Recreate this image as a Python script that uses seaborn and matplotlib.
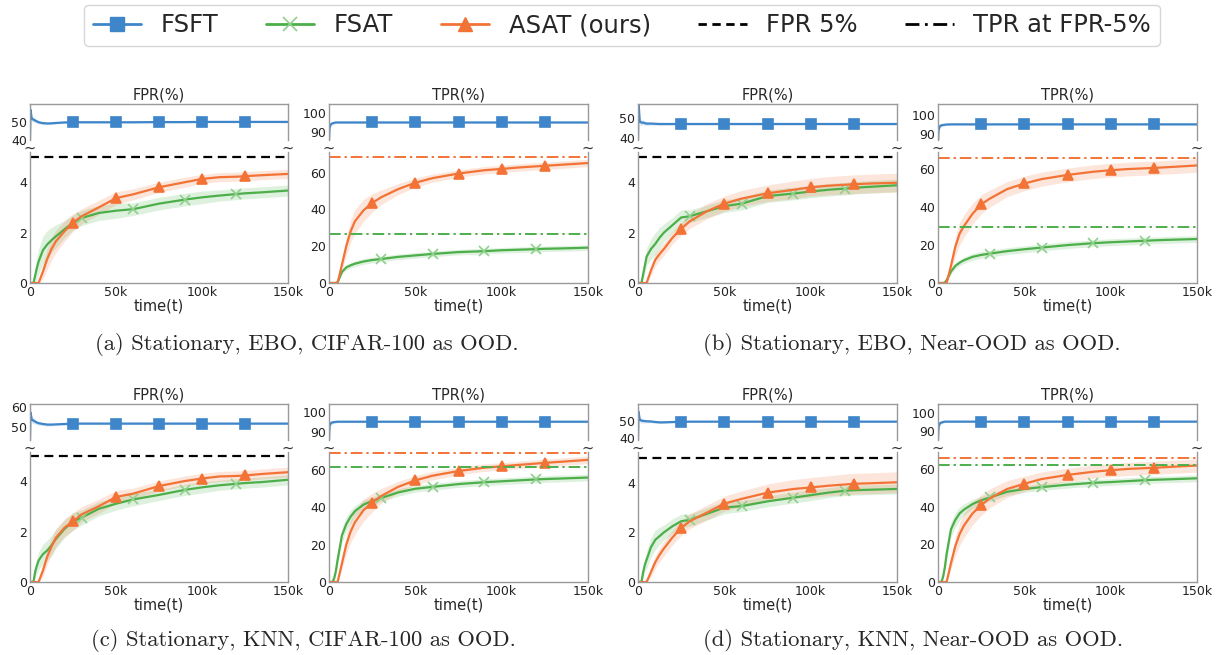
import matplotlib
matplotlib.use("Agg")
import matplotlib.pyplot as plt
from matplotlib.lines import Line2D
import numpy as np
import seaborn as sns

# time steps (thousands)
t_k = [0, 0.3, 1, 2, 3, 4, 5, 7.5, 10, 12.5, 15, 20, 25, 30, 40, 50, 60, 75, 90,
       100, 110, 120, 125, 135, 150]

# shaded spread of the FSFT curves
fpr_fsft_band = [0, 2.5, 1.8, 1.4, 1.2, 1.0, 0.9, 0.8, 0.7, 0.7, 0.6, 0.6, 0.6,
                 0.5, 0.5, 0.5, 0.5, 0.5, 0.5, 0.5, 0.5, 0.5, 0.5, 0.5, 0.5]
tpr_fsft_band = [0, 2.0, 1.2, 0.8, 0.6, 0.5, 0.5, 0.5, 0.5, 0.5, 0.5, 0.5, 0.5,
                 0.5, 0.5, 0.5, 0.5, 0.5, 0.5, 0.5, 0.5, 0.5, 0.5, 0.5, 0.5]

# (a) EBO, CIFAR-100
fpr_a_fsft = [40, 57, 52, 51.5, 51, 50.5, 50, 49.5, 49.3, 49.4, 49.6, 49.9, 50.0, 50.0,
              50.0, 50.0, 50.0, 50.1, 50.1, 50.2, 50.2, 50.2, 50.2, 50.2, 50.2]
fpr_a_fsat = [0, 0, 0, 0, 0.3, 0.6, 0.85, 1.3, 1.53, 1.7, 1.85, 2.13, 2.4, 2.58, 2.78,
              2.87, 2.93, 3.15, 3.31, 3.4, 3.47, 3.53, 3.56, 3.6, 3.67]
fpr_a_fsat_sd = [0, 0, 0, 0, 0.3, 0.45, 0.5, 0.55, 0.55, 0.5, 0.45, 0.35, 0.3, 0.3, 0.3,
                 0.3, 0.25, 0.25, 0.25, 0.25, 0.22, 0.22, 0.22, 0.22, 0.22]
fpr_a_asat = [0, 0, 0, 0, 0, 0, 0, 0.45, 0.95, 1.35, 1.65, 2.05, 2.4, 2.65, 3.0, 3.37,
              3.52, 3.8, 4.0, 4.13, 4.2, 4.22, 4.24, 4.28, 4.33]
fpr_a_asat_sd = [0, 0, 0, 0, 0, 0, 0, 0.3, 0.4, 0.45, 0.45, 0.4, 0.35, 0.3, 0.28, 0.25,
                 0.22, 0.2, 0.2, 0.18, 0.18, 0.18, 0.18, 0.18, 0.18]
tpr_a_fsft = [85, 92, 94, 94.5, 94.8, 95, 95, 95, 95, 95, 95, 95, 95, 95, 95, 95, 95,
              95, 95, 95, 95, 95, 95, 95, 95]
tpr_a_fsat = [0, 0, 0, 0, 0, 0, 0.5, 6, 8.5, 9.6, 10.5, 11.7, 12.5, 13.0, 14.2, 15.0,
              15.8, 16.8, 17.3, 17.8, 18.1, 18.4, 18.6, 18.8, 19.2]
tpr_a_fsat_sd = [0, 0, 0, 0, 0, 0, 0.3, 1.2, 1.5, 1.5, 1.5, 1.5, 1.5, 1.5, 1.5, 1.5,
                 1.5, 1.5, 1.5, 1.5, 1.5, 1.5, 1.5, 1.5, 1.5]
tpr_a_asat = [0, 0, 0, 0, 0, 0, 0, 10, 20, 28, 33.5, 39.5, 43.5, 46.5, 51, 54.5, 57,
              59.5, 61.3, 62, 62.8, 63.4, 63.7, 64.3, 65.2]
tpr_a_asat_sd = [0, 0, 0, 0, 0, 0, 0, 3, 5, 6, 6.5, 6, 5, 4, 3, 2.5, 2.2, 2, 2, 2, 2,
                 2, 2, 2, 2]
tpr_a_ref = [68.3, 26.6]  # ASAT, FSAT TPR at FPR-5%

# (b) EBO, Near-OOD
fpr_b_fsft = [38.5, 58, 48, 47.5, 47.5, 47.2, 47, 47, 46.9, 46.8, 46.8, 46.8, 46.8,
              46.8, 46.8, 46.8, 46.8, 46.8, 46.8, 46.8, 46.8, 46.8, 46.8, 46.8, 46.8]
fpr_b_fsat = [0, 0, 0, 0, 0.35, 0.7, 1.05, 1.35, 1.55, 1.8, 2.0, 2.3, 2.6, 2.65, 2.85,
              3.05, 3.15, 3.45, 3.55, 3.63, 3.7, 3.75, 3.78, 3.82, 3.88]
fpr_b_fsat_sd = [0, 0, 0, 0, 0.2, 0.3, 0.35, 0.4, 0.45, 0.4, 0.35, 0.3, 0.3, 0.25,
                 0.25, 0.25, 0.25, 0.25, 0.25, 0.25, 0.25, 0.25, 0.25, 0.25, 0.25]
fpr_b_asat = [0, 0, 0, 0, 0, 0, 0, 0.5, 0.92, 1.15, 1.35, 1.8, 2.15, 2.45, 2.85, 3.15,
              3.35, 3.56, 3.7, 3.8, 3.86, 3.9, 3.92, 3.95, 3.98]
fpr_b_asat_sd = [0, 0, 0, 0, 0, 0, 0, 0.2, 0.25, 0.25, 0.25, 0.25, 0.25, 0.28, 0.3,
                 0.3, 0.32, 0.33, 0.35, 0.35, 0.36, 0.37, 0.37, 0.37, 0.38]
tpr_b_fsft = [85, 92, 94, 94.5, 94.7, 94.8, 94.9, 95, 95, 95, 95, 95, 95, 95, 95, 95,
              95, 95, 95, 95, 95, 95, 95, 95, 95]
tpr_b_fsat = [0, 0, 0, 0, 0, 0.3, 1.5, 6, 9, 10.7, 12, 13.8, 14.8, 15.5, 16.8, 17.8,
              18.7, 20, 21, 21.5, 21.9, 22.3, 22.5, 22.8, 23.2]
tpr_b_fsat_sd = [0, 0, 0, 0, 0, 0.2, 0.5, 1.2, 1.5, 1.6, 1.7, 1.8, 1.8, 1.8, 1.8, 1.8,
                 1.8, 1.8, 1.8, 1.8, 1.8, 1.8, 1.8, 1.8, 1.8]
tpr_b_asat = [0, 0, 0, 0, 0, 0, 0, 9, 19, 26, 30, 36.5, 41.5, 44.5, 49.5, 52.5, 54.8,
              57, 58.7, 59.5, 60.1, 60.5, 60.7, 61.2, 62]
tpr_b_asat_sd = [0, 0, 0, 0, 0, 0, 0, 3, 5, 6, 6, 5.5, 5, 4.5, 4, 3.8, 3.7, 3.6, 3.6,
                 3.6, 3.6, 3.6, 3.6, 3.6, 3.6]
tpr_b_ref = [65.8, 29.8]

# (c) KNN, CIFAR-100
fpr_c_fsft = [43.5, 57, 53.5, 53, 52.5, 52, 51.7, 51.3, 51, 51, 51.1, 51.3, 51.5,
              51.5, 51.5, 51.5, 51.5, 51.5, 51.5, 51.5, 51.5, 51.5, 51.5, 51.5, 51.5]
fpr_c_fsat = [0, 0, 0, 0, 0.4, 0.65, 0.85, 1.1, 1.25, 1.45, 1.7, 2.1, 2.4, 2.55, 2.9,
              3.1, 3.27, 3.45, 3.65, 3.75, 3.83, 3.89, 3.92, 3.96, 4.05]
fpr_c_fsat_sd = [0, 0, 0, 0, 0.2, 0.3, 0.35, 0.4, 0.4, 0.4, 0.38, 0.35, 0.35, 0.3,
                 0.28, 0.25, 0.25, 0.22, 0.22, 0.22, 0.2, 0.2, 0.2, 0.2, 0.2]
fpr_c_asat = [0, 0, 0, 0, 0, 0, 0, 0.45, 1.0, 1.4, 1.75, 2.15, 2.4, 2.68, 3.0, 3.37,
              3.5, 3.8, 4.0, 4.1, 4.18, 4.2, 4.22, 4.28, 4.35]
fpr_c_asat_sd = [0, 0, 0, 0, 0, 0, 0, 0.25, 0.3, 0.35, 0.35, 0.35, 0.35, 0.3, 0.28,
                 0.25, 0.22, 0.2, 0.2, 0.2, 0.2, 0.2, 0.2, 0.2, 0.2]
tpr_c_fsft = [85, 93, 94.5, 94.8, 95, 95.1, 95.2, 95.2, 95.2, 95.2, 95.2, 95.2, 95.2,
              95.2, 95.2, 95.2, 95.2, 95.2, 95.2, 95.2, 95.2, 95.2, 95.2, 95.2, 95.2]
tpr_c_fsat = [0, 0, 0, 0, 2, 6, 12, 25, 31, 35, 38, 41.5, 43.5, 45, 48, 50, 51, 52.5,
              53.5, 54, 54.5, 55, 55.2, 55.5, 56]
tpr_c_fsat_sd = [0, 0, 0, 0, 1, 2, 3, 4, 4, 3.5, 3, 2.5, 2.2, 2, 2, 1.8, 1.8, 1.8,
                 1.8, 1.8, 1.8, 1.8, 1.8, 1.8, 1.8]
tpr_c_asat = [0, 0, 0, 0, 0, 0, 0, 10, 20, 27, 32, 38.5, 42.5, 46, 51, 54.5, 57, 59.5,
              61.3, 62, 62.8, 63.5, 63.9, 64.5, 65.5]
tpr_c_asat_sd = [0, 0, 0, 0, 0, 0, 0, 3, 5, 6, 6.5, 6, 5, 4, 3, 2.5, 2.3, 2, 2, 2, 2,
                 2, 2, 2, 2]
tpr_c_ref = [69.0, 61.8]

# (d) KNN, Near-OOD
fpr_d_fsft = [39, 55, 50.5, 50, 49.8, 49.7, 49.6, 49.5, 49.2, 49.0, 49.0, 49.2, 49.3,
              49.4, 49.4, 49.4, 49.4, 49.4, 49.4, 49.4, 49.4, 49.4, 49.4, 49.4, 49.4]
fpr_d_fsat = [0, 0, 0, 0, 0.4, 0.7, 0.9, 1.4, 1.7, 1.85, 2.0, 2.25, 2.45, 2.5, 2.75,
              3.0, 3.06, 3.25, 3.4, 3.5, 3.6, 3.68, 3.7, 3.72, 3.75]
fpr_d_fsat_sd = [0, 0, 0, 0, 0.2, 0.3, 0.35, 0.4, 0.4, 0.35, 0.3, 0.3, 0.28, 0.25,
                 0.25, 0.25, 0.22, 0.22, 0.22, 0.22, 0.2, 0.2, 0.2, 0.2, 0.2]
fpr_d_asat = [0, 0, 0, 0, 0, 0, 0, 0.4, 0.8, 1.1, 1.35, 1.8, 2.18, 2.45, 2.8, 3.16,
              3.35, 3.6, 3.75, 3.81, 3.88, 3.93, 3.96, 3.98, 4.02]
fpr_d_asat_sd = [0, 0, 0, 0, 0, 0, 0, 0.2, 0.25, 0.28, 0.3, 0.3, 0.3, 0.3, 0.3, 0.3,
                 0.32, 0.35, 0.38, 0.4, 0.4, 0.42, 0.42, 0.42, 0.42]
tpr_d_fsft = [85, 92, 94, 94.5, 94.8, 95, 95, 95, 95, 95, 95, 95, 95, 95, 95, 95, 95,
              95, 95, 95, 95, 95, 95, 95, 95]
tpr_d_fsat = [0, 0, 0, 0, 3, 8, 15, 28, 33, 36.5, 38.5, 41.5, 43.5, 45, 48, 49.5,
              50.5, 51.8, 52.8, 53.2, 53.7, 54.2, 54.4, 54.7, 55.2]
tpr_d_fsat_sd = [0, 0, 0, 0, 1, 2, 3, 4, 4, 3.5, 3, 2.5, 2.2, 2, 2, 1.8, 1.8, 1.8,
                 1.8, 1.8, 1.8, 1.8, 1.8, 1.8, 1.8]
tpr_d_asat = [0, 0, 0, 0, 0, 0, 0, 10, 19, 25.5, 30, 36.5, 41, 44.5, 49.5, 52.3, 54.8,
              57, 58.7, 59.5, 60.2, 60.6, 60.8, 61.3, 62]
tpr_d_asat_sd = [0, 0, 0, 0, 0, 0, 0, 3, 5, 6, 6.5, 6, 5.5, 5, 4.5, 4, 3.8, 3.6, 3.5,
                 3.5, 3.5, 3.5, 3.5, 3.5, 3.5]
tpr_d_ref = [65.9, 62.3]

fpr_target = 5.0

captions = ["(a) Stationary, EBO, CIFAR-100 as OOD.",
            "(b) Stationary, EBO, Near-OOD as OOD.",
            "(c) Stationary, KNN, CIFAR-100 as OOD.",
            "(d) Stationary, KNN, Near-OOD as OOD."]
method_names = ["FSFT", "FSAT", "ASAT (ours)"]
x_ticks = [0, 50000, 100000, 150000]
x_ticklabels = ["0", "50k", "100k", "150k"]

# ---------------------------------------------------------------- styling
sns.set_style("white")
plt.rcParams["font.family"] = ["DejaVu Sans"]

BLUE = "#3e86c9"
GREEN = "#4caf4a"
ORANGE = "#f37336"
SPINE = "#999999"

W, H = 1217, 655
fig = plt.figure(figsize=(W / 100, H / 100), dpi=100)

t = np.array(t_k) * 1000
marks_main = [i for i, v in enumerate(t_k) if v in (25, 50, 75, 100, 125)]
marks_fsat = [i for i, v in enumerate(t_k) if v in (30, 60, 90, 120)]

col_px = [(30, 288), (329, 588), (638, 897), (938, 1197)]
row_px = [((104, 140), (152, 283)), ((404, 440), (452, 582))]


def rect(x0, x1, y0, y1):
    return [x0 / W, 1 - y1 / H, (x1 - x0) / W, (y1 - y0) / H]


def draw_series(ax, y, sd, color, marker, marks, ms, mec, lw=1.6):
    y = np.asarray(y, float)
    sd = np.asarray(sd, float)
    ax.fill_between(t, y - sd, y + sd, color=color, alpha=0.18, lw=0)
    sns.lineplot(x=t, y=y, ax=ax, color=color, lw=lw, marker=marker,
                 markevery=marks, ms=ms, mec=mec, mfc=color, mew=1.2,
                 errorbar=None, legend=False, sort=False)


panels = [
    ("FPR", 0, 0, fpr_a_fsft, fpr_a_fsat, fpr_a_fsat_sd, fpr_a_asat, fpr_a_asat_sd,
     None, (40, 60.3), [40, 50], 5.2),
    ("TPR", 0, 1, tpr_a_fsft, tpr_a_fsat, tpr_a_fsat_sd, tpr_a_asat, tpr_a_asat_sd,
     tpr_a_ref, (85.5, 105), [90, 100], 71.2),
    ("FPR", 0, 2, fpr_b_fsft, fpr_b_fsat, fpr_b_fsat_sd, fpr_b_asat, fpr_b_asat_sd,
     None, (38.8, 56.8), [40, 50], 5.2),
    ("TPR", 0, 3, tpr_b_fsft, tpr_b_fsat, tpr_b_fsat_sd, tpr_b_asat, tpr_b_asat_sd,
     tpr_b_ref, (87, 105.4), [90, 100], 69.1),
    ("FPR", 1, 0, fpr_c_fsft, fpr_c_fsat, fpr_c_fsat_sd, fpr_c_asat, fpr_c_asat_sd,
     None, (43.3, 61.3), [50, 60], 5.15),
    ("TPR", 1, 1, tpr_c_fsft, tpr_c_fsat, tpr_c_fsat_sd, tpr_c_asat, tpr_c_asat_sd,
     tpr_c_ref, (85.7, 104.4), [90, 100], 69.7),
    ("FPR", 1, 2, fpr_d_fsft, fpr_d_fsat, fpr_d_fsat_sd, fpr_d_asat, fpr_d_asat_sd,
     None, (39, 59.4), [40, 50], 5.24),
    ("TPR", 1, 3, tpr_d_fsft, tpr_d_fsat, tpr_d_fsat_sd, tpr_d_asat, tpr_d_asat_sd,
     tpr_d_ref, (84.8, 104.8), [90, 100], 69.2),
]

TICK_FS = 9
for (metric, r, c, fsft, fsat, fsat_sd, asat, asat_sd, ref, top_lim, top_ticks,
     bot_max) in panels:
    (ty0, ty1), (by0, by1) = row_px[r]
    x0, x1 = col_px[c]
    ax_t = fig.add_axes(rect(x0, x1, ty0, ty1))
    ax_b = fig.add_axes(rect(x0, x1, by0, by1))

    band = fpr_fsft_band if metric == "FPR" else tpr_fsft_band
    draw_series(ax_t, fsft, band, BLUE, "s", marks_main, 6.5, BLUE)

    draw_series(ax_b, fsat, fsat_sd, GREEN, "x", marks_fsat, 7, "#8fd08d", lw=1.6)
    draw_series(ax_b, asat, asat_sd, ORANGE, "^", marks_main, 7, ORANGE)

    if metric == "FPR":
        ax_b.axhline(fpr_target, color="black", ls=(0, (4, 2.5)), lw=1.6)
        ax_b.set_yticks([0, 2, 4])
    else:
        ax_b.axhline(ref[0], color=ORANGE, ls=(0, (6, 2, 1.2, 2)), lw=1.4)
        ax_b.axhline(ref[1], color=GREEN, ls=(0, (6, 2, 1.2, 2)), lw=1.4)
        ax_b.set_yticks([0, 20, 40, 60])

    for ax in (ax_t, ax_b):
        ax.set_xlim(0, 150000)
        for s in ax.spines.values():
            s.set_color(SPINE)
            s.set_linewidth(1.0)
        ax.tick_params(axis="both", length=0, labelsize=TICK_FS, pad=2,
                       labelcolor="#222222")
        ax.set_xlabel("")
        ax.set_ylabel("")

    ax_t.set_ylim(*top_lim)
    ax_t.set_yticks(top_ticks)
    ax_t.set_xticks(x_ticks)
    ax_t.set_xticklabels([])
    ax_t.spines["bottom"].set_visible(False)
    ax_t.set_title(f"{metric}(%)", fontsize=10.5, pad=3)

    ax_b.set_ylim(0, bot_max)
    ax_b.spines["top"].set_visible(False)
    ax_b.set_xticks(x_ticks)
    ax_b.set_xticklabels(x_ticklabels)
    ax_b.set_xlabel("time(t)", fontsize=10.5, labelpad=0)

    # break marks between the two halves
    ymid = (ty1 + by0) / 2 + 2
    for xp in (x0, x1):
        fig.text(xp / W, 1 - ymid / H, "~", ha="center", va="center",
                 fontsize=10.5, color="#333333")

# sub-figure captions
cap_pos = [(307, 345), (912, 345), (303, 640), (913, 640)]
for text, (cx, cy) in zip(captions, cap_pos):
    fig.text(cx / W, 1 - cy / H, text, ha="center", va="center",
             family="cmr10", fontsize=16.3)

handles = [
    Line2D([], [], color=BLUE, marker="s", ms=10, mec=BLUE, lw=2),
    Line2D([], [], color=GREEN, marker="x", ms=10, mec="#8fd08d", mew=1.2, lw=2),
    Line2D([], [], color=ORANGE, marker="^", ms=10, mec=ORANGE, lw=2),
    Line2D([], [], color="black", ls=(0, (3, 2)), lw=2),
    Line2D([], [], color="black", ls=(0, (5, 2, 1, 2)), lw=2),
]
labels = method_names + ["FPR 5%", "TPR at FPR-5%"]
fig.legend(handles, labels, loc="upper center", bbox_to_anchor=(0.511, 0.993),
           ncol=5, fontsize=17.5, frameon=True, fancybox=True, edgecolor="#cccccc",
           handlelength=2.0, columnspacing=1.95, borderpad=0.35, borderaxespad=0)

fig.savefig("out.png", dpi=100)
